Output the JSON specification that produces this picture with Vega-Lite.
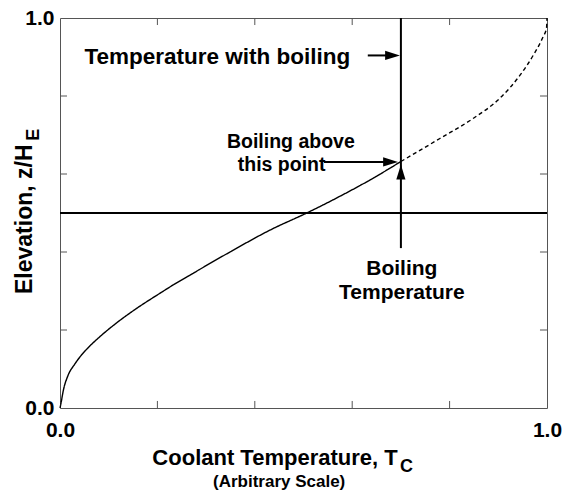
{
  "$schema": "https://vega.github.io/schema/vega-lite/v6.json",
  "width": 487,
  "height": 390,
  "autosize": {"type": "none"},
  "padding": {"left": 60, "top": 18, "right": 18, "bottom": 91},
  "config": {
    "view": {"stroke": "#555", "strokeWidth": 1},
    "font": "Liberation Sans",
    "axis": {
      "grid": false, "ticks": false, "domain": false, "labelFlush": false,
      "labelFont": "Liberation Sans", "labelFontWeight": "bold", "labelFontSize": 21,
      "labelColor": "black"
    },
    "axisX": {"labelPadding": 11},
    "axisY": {"labelPadding": 6}
  },
  "datasets": {
    "curve": [
      {"T": 0.0, "z": 0.0, "part": "solid"},
      {"T": 0.002, "z": 0.012, "part": "solid"},
      {"T": 0.007, "z": 0.046, "part": "solid"},
      {"T": 0.017, "z": 0.085, "part": "solid"},
      {"T": 0.03, "z": 0.112, "part": "solid"},
      {"T": 0.041, "z": 0.131, "part": "solid"},
      {"T": 0.055, "z": 0.151, "part": "solid"},
      {"T": 0.082, "z": 0.183, "part": "solid"},
      {"T": 0.116, "z": 0.218, "part": "solid"},
      {"T": 0.151, "z": 0.25, "part": "solid"},
      {"T": 0.205, "z": 0.294, "part": "solid"},
      {"T": 0.233, "z": 0.316, "part": "solid"},
      {"T": 0.274, "z": 0.346, "part": "solid"},
      {"T": 0.349, "z": 0.4, "part": "solid"},
      {"T": 0.431, "z": 0.456, "part": "solid"},
      {"T": 0.51, "z": 0.502, "part": "solid"},
      {"T": 0.575, "z": 0.543, "part": "solid"},
      {"T": 0.637, "z": 0.585, "part": "solid"},
      {"T": 0.7, "z": 0.632, "part": "solid"},
      {"T": 0.7, "z": 0.632, "part": "dashed"},
      {"T": 0.78, "z": 0.691, "part": "dashed"},
      {"T": 0.849, "z": 0.743, "part": "dashed"},
      {"T": 0.903, "z": 0.794, "part": "dashed"},
      {"T": 0.945, "z": 0.854, "part": "dashed"},
      {"T": 0.972, "z": 0.905, "part": "dashed"},
      {"T": 0.992, "z": 0.952, "part": "dashed"},
      {"T": 0.999, "z": 0.974, "part": "dashed"},
      {"T": 1.0, "z": 1.0, "part": "dashed"}
    ],
    "ticks": [{"v": 0.2}, {"v": 0.4}, {"v": 0.6}, {"v": 0.8}],
    "shafts": [
      {"x": 0.632, "x2": 0.685, "z": 0.904},
      {"x": 0.542, "x2": 0.68, "z": 0.631}
    ],
    "heads": [
      {"x": 0.698, "z": 0.904, "dir": "right"},
      {"x": 0.694, "z": 0.631, "dir": "right"},
      {"x": 0.7, "z": 0.624, "dir": "up"}
    ],
    "notes1": [
      {"text": "Temperature with boiling", "x": 0.323, "z": 0.901}
    ],
    "notes2": [
      {"text": "Boiling above", "x": 0.474, "z": 0.682},
      {"text": "this point", "x": 0.455, "z": 0.624}
    ],
    "notes3": [
      {"text": "Boiling", "x": 0.702, "z": 0.357},
      {"text": "Temperature", "x": 0.702, "z": 0.295}
    ],
    "xtitle": [{"text": "Coolant Temperature, T", "x": 0.4415, "z": -0.146}],
    "xsub": [{"text": "C", "x": 0.698, "z": -0.164}],
    "xnote": [{"text": "(Arbitrary Scale)", "x": 0.45, "z": -0.2023}],
    "ytitle": [{"text": "Elevation, z/H", "x": -0.0575, "z": 0.484}],
    "ysub": [{"text": "E", "x": -0.043, "z": 0.7004}]
  },
  "layer": [
    {
      "data": {"name": "curve"},
      "mark": {"type": "line", "color": "black", "strokeWidth": 1.4, "interpolate": "monotone"},
      "encoding": {
        "x": {"field": "T", "type": "quantitative", "scale": {"domain": [0, 1], "nice": false, "zero": false},
              "axis": {"values": [0, 1], "format": ".1f", "title": null}},
        "y": {"field": "z", "type": "quantitative", "scale": {"domain": [0, 1], "nice": false, "zero": false},
              "axis": {"values": [0, 1], "format": ".1f", "title": null}},
        "strokeDash": {"field": "part", "type": "nominal",
                       "scale": {"domain": ["solid", "dashed"], "range": [[1, 0], [4, 3]]}, "legend": null}
      }
    },
    {
      "data": {"values": [{}]},
      "mark": {"type": "rule", "color": "black", "strokeWidth": 2},
      "encoding": {"y": {"datum": 0.5, "type": "quantitative", "title": null}}
    },
    {
      "data": {"values": [{}]},
      "mark": {"type": "rule", "color": "black", "strokeWidth": 2},
      "encoding": {
        "x": {"datum": 0.7, "type": "quantitative", "title": null},
        "y": {"datum": 0.41, "type": "quantitative", "title": null},
        "y2": {"datum": 1}
      }
    },
    {
      "data": {"name": "ticks"},
      "mark": {"type": "rule", "color": "#555", "strokeWidth": 1},
      "encoding": {
        "x": {"field": "v", "type": "quantitative", "title": null},
        "y": {"datum": 0, "type": "quantitative", "title": null},
        "y2": {"datum": 0.018}
      }
    },
    {
      "data": {"name": "ticks"},
      "mark": {"type": "rule", "color": "#555", "strokeWidth": 1},
      "encoding": {
        "x": {"field": "v", "type": "quantitative", "title": null},
        "y": {"datum": 0.982, "type": "quantitative", "title": null},
        "y2": {"datum": 1}
      }
    },
    {
      "data": {"name": "ticks"},
      "mark": {"type": "rule", "color": "#555", "strokeWidth": 1},
      "encoding": {
        "y": {"field": "v", "type": "quantitative", "title": null},
        "x": {"datum": 0, "type": "quantitative", "title": null},
        "x2": {"datum": 0.0144}
      }
    },
    {
      "data": {"name": "ticks"},
      "mark": {"type": "rule", "color": "#555", "strokeWidth": 1},
      "encoding": {
        "y": {"field": "v", "type": "quantitative", "title": null},
        "x": {"datum": 0.9856, "type": "quantitative", "title": null},
        "x2": {"datum": 1}
      }
    },
    {
      "data": {"name": "shafts"},
      "mark": {"type": "rule", "color": "black", "strokeWidth": 2},
      "encoding": {
        "x": {"field": "x", "type": "quantitative", "title": null},
        "x2": {"field": "x2"},
        "y": {"field": "z", "type": "quantitative", "title": null}
      }
    },
    {
      "data": {"name": "heads"},
      "mark": {"type": "point", "filled": true, "color": "black", "opacity": 1, "size": 220},
      "encoding": {
        "x": {"field": "x", "type": "quantitative", "title": null},
        "y": {"field": "z", "type": "quantitative", "title": null},
        "shape": {"field": "dir", "type": "nominal", "legend": null,
                  "scale": {"domain": ["right", "up"],
                            "range": ["M0,0L-2,-0.62L-2,0.62Z", "M0,0L-0.62,2L0.62,2Z"]}}
      }
    },
    {
      "data": {"name": "notes1"},
      "mark": {"type": "text", "font": "Liberation Sans", "fontWeight": "bold", "fontSize": 22.5,
               "align": "center", "baseline": "middle", "color": "black"},
      "encoding": {
        "x": {"field": "x", "type": "quantitative", "title": null},
        "y": {"field": "z", "type": "quantitative", "title": null},
        "text": {"field": "text"}
      }
    },
    {
      "data": {"name": "notes2"},
      "mark": {"type": "text", "font": "Liberation Sans", "fontWeight": "bold", "fontSize": 19.5,
               "align": "center", "baseline": "middle", "color": "black"},
      "encoding": {
        "x": {"field": "x", "type": "quantitative", "title": null},
        "y": {"field": "z", "type": "quantitative", "title": null},
        "text": {"field": "text"}
      }
    },
    {
      "data": {"name": "notes3"},
      "mark": {"type": "text", "font": "Liberation Sans", "fontWeight": "bold", "fontSize": 21,
               "align": "center", "baseline": "middle", "color": "black"},
      "encoding": {
        "x": {"field": "x", "type": "quantitative", "title": null},
        "y": {"field": "z", "type": "quantitative", "title": null},
        "text": {"field": "text"}
      }
    },
    {
      "data": {"name": "xtitle"},
      "mark": {"type": "text", "font": "Liberation Sans", "fontWeight": "bold", "fontSize": 22,
               "align": "center", "baseline": "alphabetic", "color": "black"},
      "encoding": {
        "x": {"field": "x", "type": "quantitative", "title": null},
        "y": {"field": "z", "type": "quantitative", "title": null},
        "text": {"field": "text"}
      }
    },
    {
      "data": {"name": "xsub"},
      "mark": {"type": "text", "font": "Liberation Sans", "fontWeight": "bold", "fontSize": 18,
               "align": "left", "baseline": "alphabetic", "color": "black"},
      "encoding": {
        "x": {"field": "x", "type": "quantitative", "title": null},
        "y": {"field": "z", "type": "quantitative", "title": null},
        "text": {"field": "text"}
      }
    },
    {
      "data": {"name": "xnote"},
      "mark": {"type": "text", "font": "Liberation Sans", "fontWeight": "bold", "fontSize": 17,
               "align": "center", "baseline": "alphabetic", "color": "black"},
      "encoding": {
        "x": {"field": "x", "type": "quantitative", "title": null},
        "y": {"field": "z", "type": "quantitative", "title": null},
        "text": {"field": "text"}
      }
    },
    {
      "data": {"name": "ytitle"},
      "mark": {"type": "text", "font": "Liberation Sans", "fontWeight": "bold", "fontSize": 23,
               "align": "center", "baseline": "alphabetic", "angle": 270, "color": "black"},
      "encoding": {
        "x": {"field": "x", "type": "quantitative", "title": null},
        "y": {"field": "z", "type": "quantitative", "title": null},
        "text": {"field": "text"}
      }
    },
    {
      "data": {"name": "ysub"},
      "mark": {"type": "text", "font": "Liberation Sans", "fontWeight": "bold", "fontSize": 18,
               "align": "center", "baseline": "alphabetic", "angle": 270, "color": "black"},
      "encoding": {
        "x": {"field": "x", "type": "quantitative", "title": null},
        "y": {"field": "z", "type": "quantitative", "title": null},
        "text": {"field": "text"}
      }
    }
  ]
}
